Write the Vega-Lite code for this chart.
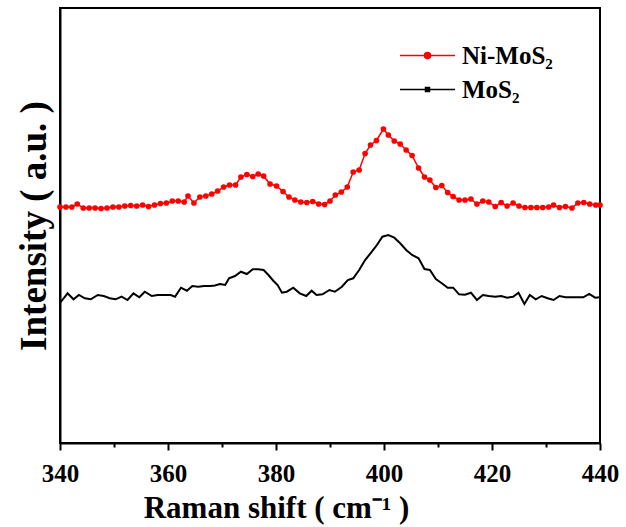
{
  "$schema": "https://vega.github.io/schema/vega-lite/v6.json",
  "width": 540,
  "height": 435,
  "autosize": {"type": "none"},
  "padding": {"left": 60, "top": 8, "right": 26, "bottom": 84},
  "background": "white",
  "config": {
    "view": {"stroke": "black", "strokeWidth": 2},
    "font": "Liberation Serif",
    "axis": {"domainColor": "black", "domainWidth": 2, "grid": false, "labelColor": "black", "titleColor": "black", "tickColor": "black"}
  },
  "data": {"values": [
    {"s":"Ni-MoS₂","x":340,"y":236},{"s":"Ni-MoS₂","x":341.1,"y":236},{"s":"Ni-MoS₂","x":342.2,"y":236},{"s":"Ni-MoS₂","x":343.2,"y":239},{"s":"Ni-MoS₂","x":344.3,"y":235},{"s":"Ni-MoS₂","x":345.4,"y":235},{"s":"Ni-MoS₂","x":346.5,"y":235},{"s":"Ni-MoS₂","x":347.6,"y":234.5},{"s":"Ni-MoS₂","x":348.7,"y":235},{"s":"Ni-MoS₂","x":349.8,"y":236},{"s":"Ni-MoS₂","x":350.9,"y":236},{"s":"Ni-MoS₂","x":352,"y":237},{"s":"Ni-MoS₂","x":353.1,"y":237.5},{"s":"Ni-MoS₂","x":354.2,"y":237},{"s":"Ni-MoS₂","x":355.3,"y":238},{"s":"Ni-MoS₂","x":356.4,"y":236.5},{"s":"Ni-MoS₂","x":357.5,"y":238},{"s":"Ni-MoS₂","x":358.6,"y":239.5},{"s":"Ni-MoS₂","x":359.7,"y":240},{"s":"Ni-MoS₂","x":360.8,"y":242},{"s":"Ni-MoS₂","x":361.9,"y":242},{"s":"Ni-MoS₂","x":363,"y":241},{"s":"Ni-MoS₂","x":363.7,"y":247},{"s":"Ni-MoS₂","x":364.8,"y":240},{"s":"Ni-MoS₂","x":365.9,"y":246},{"s":"Ni-MoS₂","x":367,"y":247},{"s":"Ni-MoS₂","x":368.1,"y":249},{"s":"Ni-MoS₂","x":369.2,"y":252},{"s":"Ni-MoS₂","x":370.3,"y":256},{"s":"Ni-MoS₂","x":371.4,"y":258},{"s":"Ni-MoS₂","x":372.5,"y":258},{"s":"Ni-MoS₂","x":373.5,"y":266},{"s":"Ni-MoS₂","x":374.6,"y":268.5},{"s":"Ni-MoS₂","x":375.7,"y":266.5},{"s":"Ni-MoS₂","x":376.7,"y":269},{"s":"Ni-MoS₂","x":377.7,"y":267},{"s":"Ni-MoS₂","x":378.9,"y":259},{"s":"Ni-MoS₂","x":380.1,"y":257},{"s":"Ni-MoS₂","x":381.3,"y":251.5},{"s":"Ni-MoS₂","x":382.4,"y":246},{"s":"Ni-MoS₂","x":383.5,"y":243},{"s":"Ni-MoS₂","x":384.6,"y":241},{"s":"Ni-MoS₂","x":385.7,"y":240.5},{"s":"Ni-MoS₂","x":386.8,"y":241.5},{"s":"Ni-MoS₂","x":387.9,"y":239},{"s":"Ni-MoS₂","x":389,"y":238.5},{"s":"Ni-MoS₂","x":390,"y":242},{"s":"Ni-MoS₂","x":391,"y":248},{"s":"Ni-MoS₂","x":392.1,"y":251},{"s":"Ni-MoS₂","x":393.2,"y":256},{"s":"Ni-MoS₂","x":394.3,"y":271},{"s":"Ni-MoS₂","x":395.4,"y":273},{"s":"Ni-MoS₂","x":396.5,"y":289.5},{"s":"Ni-MoS₂","x":397.5,"y":298},{"s":"Ni-MoS₂","x":398.6,"y":302.5},{"s":"Ni-MoS₂","x":399.9,"y":314},{"s":"Ni-MoS₂","x":400.8,"y":308},{"s":"Ni-MoS₂","x":401.9,"y":302},{"s":"Ni-MoS₂","x":403,"y":299},{"s":"Ni-MoS₂","x":404.1,"y":293},{"s":"Ni-MoS₂","x":405.2,"y":287.5},{"s":"Ni-MoS₂","x":406.4,"y":275},{"s":"Ni-MoS₂","x":407.5,"y":266},{"s":"Ni-MoS₂","x":408.5,"y":263},{"s":"Ni-MoS₂","x":409.6,"y":255.5},{"s":"Ni-MoS₂","x":410.7,"y":257.5},{"s":"Ni-MoS₂","x":411.8,"y":250.5},{"s":"Ni-MoS₂","x":412.8,"y":246.5},{"s":"Ni-MoS₂","x":413.9,"y":243},{"s":"Ni-MoS₂","x":415,"y":243},{"s":"Ni-MoS₂","x":416.1,"y":244},{"s":"Ni-MoS₂","x":417.2,"y":239},{"s":"Ni-MoS₂","x":418.3,"y":242},{"s":"Ni-MoS₂","x":419.4,"y":241},{"s":"Ni-MoS₂","x":420.6,"y":236.5},{"s":"Ni-MoS₂","x":421.7,"y":240.5},{"s":"Ni-MoS₂","x":422.8,"y":237},{"s":"Ni-MoS₂","x":423.9,"y":240},{"s":"Ni-MoS₂","x":425,"y":237},{"s":"Ni-MoS₂","x":426.1,"y":235.5},{"s":"Ni-MoS₂","x":427.2,"y":235.5},{"s":"Ni-MoS₂","x":428.3,"y":235.5},{"s":"Ni-MoS₂","x":429.4,"y":235.5},{"s":"Ni-MoS₂","x":430.5,"y":236},{"s":"Ni-MoS₂","x":431.4,"y":238},{"s":"Ni-MoS₂","x":432.5,"y":235.5},{"s":"Ni-MoS₂","x":433.6,"y":236.5},{"s":"Ni-MoS₂","x":434.8,"y":235},{"s":"Ni-MoS₂","x":435.9,"y":240},{"s":"Ni-MoS₂","x":437,"y":240.5},{"s":"Ni-MoS₂","x":438.1,"y":239},{"s":"Ni-MoS₂","x":439.2,"y":238},{"s":"Ni-MoS₂","x":440,"y":238},
    {"s":"MoS₂","x":340,"y":140},{"s":"MoS₂","x":341.4,"y":149.7},{"s":"MoS₂","x":342.5,"y":143.7},{"s":"MoS₂","x":343.5,"y":148},{"s":"MoS₂","x":344.6,"y":144.7},{"s":"MoS₂","x":345.7,"y":143.7},{"s":"MoS₂","x":347,"y":148},{"s":"MoS₂","x":348.1,"y":147},{"s":"MoS₂","x":349.2,"y":144.7},{"s":"MoS₂","x":350.3,"y":143.7},{"s":"MoS₂","x":351.4,"y":146.3},{"s":"MoS₂","x":352.5,"y":143},{"s":"MoS₂","x":353.6,"y":149.7},{"s":"MoS₂","x":354.7,"y":145.7},{"s":"MoS₂","x":355.7,"y":151.3},{"s":"MoS₂","x":357,"y":147},{"s":"MoS₂","x":358.1,"y":148},{"s":"MoS₂","x":359.3,"y":148},{"s":"MoS₂","x":360.5,"y":148},{"s":"MoS₂","x":361.3,"y":146.3},{"s":"MoS₂","x":362.4,"y":155.3},{"s":"MoS₂","x":363.5,"y":152.3},{"s":"MoS₂","x":364.5,"y":157},{"s":"MoS₂","x":365.6,"y":156.3},{"s":"MoS₂","x":366.7,"y":157},{"s":"MoS₂","x":367.8,"y":157},{"s":"MoS₂","x":368.7,"y":157.5},{"s":"MoS₂","x":369.6,"y":159},{"s":"MoS₂","x":370.6,"y":158},{"s":"MoS₂","x":371.3,"y":164.7},{"s":"MoS₂","x":372.4,"y":167},{"s":"MoS₂","x":373.5,"y":171.3},{"s":"MoS₂","x":374.6,"y":169},{"s":"MoS₂","x":375.7,"y":173.7},{"s":"MoS₂","x":376.7,"y":173.7},{"s":"MoS₂","x":377.7,"y":173},{"s":"MoS₂","x":378.6,"y":168},{"s":"MoS₂","x":379.5,"y":162.3},{"s":"MoS₂","x":380.3,"y":158},{"s":"MoS₂","x":381.1,"y":150.3},{"s":"MoS₂","x":382,"y":151.3},{"s":"MoS₂","x":383.2,"y":155.3},{"s":"MoS₂","x":384.4,"y":149.7},{"s":"MoS₂","x":385.6,"y":147},{"s":"MoS₂","x":386.6,"y":152.3},{"s":"MoS₂","x":387.5,"y":148},{"s":"MoS₂","x":388.6,"y":148.7},{"s":"MoS₂","x":389.9,"y":153},{"s":"MoS₂","x":390.9,"y":151.3},{"s":"MoS₂","x":392.2,"y":156.3},{"s":"MoS₂","x":393.3,"y":163},{"s":"MoS₂","x":394.3,"y":164.7},{"s":"MoS₂","x":395.4,"y":173},{"s":"MoS₂","x":396.5,"y":183},{"s":"MoS₂","x":397.5,"y":189.7},{"s":"MoS₂","x":398.6,"y":197.3},{"s":"MoS₂","x":399.7,"y":206.3},{"s":"MoS₂","x":400.8,"y":208},{"s":"MoS₂","x":401.9,"y":205.3},{"s":"MoS₂","x":403,"y":199.7},{"s":"MoS₂","x":404.1,"y":193},{"s":"MoS₂","x":405.2,"y":188},{"s":"MoS₂","x":406.4,"y":184.7},{"s":"MoS₂","x":407.5,"y":174},{"s":"MoS₂","x":408.5,"y":173},{"s":"MoS₂","x":409.6,"y":164},{"s":"MoS₂","x":410.7,"y":159.7},{"s":"MoS₂","x":411.8,"y":155.3},{"s":"MoS₂","x":412.8,"y":155.3},{"s":"MoS₂","x":413.9,"y":148.7},{"s":"MoS₂","x":415,"y":148.3},{"s":"MoS₂","x":416.1,"y":150.3},{"s":"MoS₂","x":417.2,"y":143},{"s":"MoS₂","x":418.3,"y":148},{"s":"MoS₂","x":419.4,"y":147},{"s":"MoS₂","x":420.6,"y":146.3},{"s":"MoS₂","x":421.7,"y":147},{"s":"MoS₂","x":422.8,"y":145.3},{"s":"MoS₂","x":423.9,"y":146.3},{"s":"MoS₂","x":424.9,"y":150.3},{"s":"MoS₂","x":426,"y":139},{"s":"MoS₂","x":427,"y":148},{"s":"MoS₂","x":428.1,"y":143.7},{"s":"MoS₂","x":429.2,"y":147},{"s":"MoS₂","x":430.3,"y":144.7},{"s":"MoS₂","x":431.4,"y":143},{"s":"MoS₂","x":432.5,"y":147},{"s":"MoS₂","x":433.6,"y":145.7},{"s":"MoS₂","x":434.7,"y":145.7},{"s":"MoS₂","x":435.8,"y":145.7},{"s":"MoS₂","x":436.9,"y":145.7},{"s":"MoS₂","x":438,"y":149},{"s":"MoS₂","x":439.1,"y":145.3},{"s":"MoS₂","x":440,"y":145.7}
  ]},
  "encoding": {
    "x": {
      "field": "x", "type": "quantitative",
      "scale": {"domain": [340, 440], "nice": false, "zero": false},
      "axis": {
        "values": [340, 350, 360, 370, 380, 390, 400, 410, 420, 430, 440],
        "labelExpr": "datum.value % 20 === 0 ? datum.label : ''",
        "tickSize": {"condition": {"test": "datum.value % 20 === 0", "value": 7}, "value": 4},
        "tickWidth": 2,
        "labelFont": "Liberation Serif", "labelFontSize": 25, "labelFontWeight": "bold",
        "labelPadding": 11, "labelFlush": false, "labelOverlap": false,
        "title": "Raman shift ( cm⁻¹ )",
        "titleFont": "Liberation Serif", "titleFontSize": 31, "titleFontWeight": "bold",
        "titleBaseline": "alphabetic", "titleX": 216, "titleY": 74
      }
    },
    "y": {
      "field": "y", "type": "quantitative",
      "scale": {"domain": [0, 435], "nice": false, "zero": false},
      "axis": {
        "labels": false, "ticks": false,
        "title": "Intensity ( a.u. )",
        "titleFont": "Liberation Serif", "titleFontSize": 37, "titleFontWeight": "bold",
        "titleBaseline": "alphabetic", "titlePadding": 15
      }
    },
    "color": {
      "field": "s", "type": "nominal",
      "scale": {"domain": ["Ni-MoS₂", "MoS₂"], "range": ["#ff0000", "#000000"]},
      "legend": {
        "title": null, "orient": "none", "legendX": 355, "legendY": 35,
        "labelFont": "Liberation Serif", "labelFontSize": 25, "labelFontWeight": "bold", "labelColor": "black",
        "symbolSize": 400, "symbolStrokeWidth": 1.5, "rowPadding": 8, "labelOffset": 22,
        "encode": {
          "symbols": {"update": {
            "shape": {"signal": "datum.value === 'Ni-MoS₂' ? 'M-2.75,0H2.75M-0.3,0A0.3,0.3,0,1,0,0.3,0A0.3,0.3,0,1,0,-0.3,0Z' : 'M-2.75,0H2.75M-0.2,-0.2H0.2V0.2H-0.2Z'"},
            "fill": {"scale": "color", "field": "value"},
            "stroke": {"scale": "color", "field": "value"},
            "opacity": {"value": 1}
          }}
        }
      }
    }
  },
  "layer": [
    {"mark": {"type": "line", "strokeWidth": 2}, "transform": [{"filter": "datum.s === 'MoS₂'"}]},
    {"mark": {"type": "line", "strokeWidth": 1.5}, "transform": [{"filter": "datum.s === 'Ni-MoS₂'"}]},
    {"mark": {"type": "point", "filled": true, "shape": "circle", "size": 32, "opacity": 1}, "transform": [{"filter": "datum.s === 'Ni-MoS₂'"}]}
  ]
}
